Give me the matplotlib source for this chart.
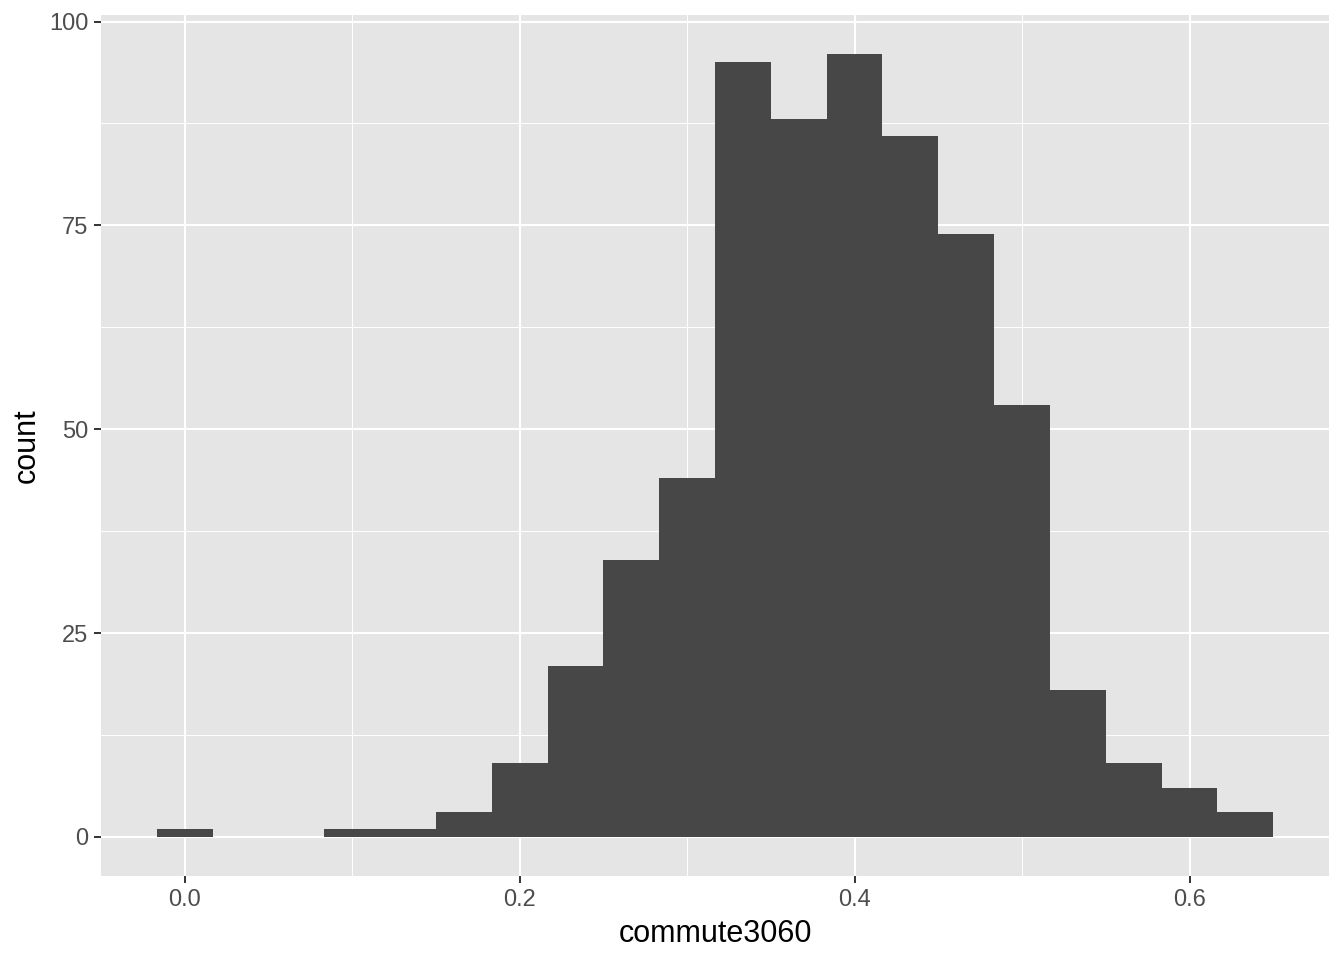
import matplotlib
matplotlib.use("Agg")
import matplotlib.pyplot as plt
from matplotlib.ticker import FixedLocator

bin_centers = [0.0, 0.0333, 0.0667, 0.1, 0.1333, 0.1667, 0.2, 0.2333, 0.2667, 0.3,
               0.3333, 0.3667, 0.4, 0.4333, 0.4667, 0.5, 0.5333, 0.5667, 0.6, 0.6333]
counts = [1, 0, 0, 1, 1, 3, 9, 21, 34, 44, 95, 88, 96, 86, 74, 53, 18, 9, 6, 3]
bin_width = 1 / 30
x_ticks = [0.0, 0.2, 0.4, 0.6]
x_tick_labels = ["0.0", "0.2", "0.4", "0.6"]
y_ticks = [0, 25, 50, 75, 100]

plt.rcParams['font.family'] = ['Liberation Sans', 'DejaVu Sans']

fig = plt.figure(figsize=(6.72, 4.8), dpi=200)
ax = fig.add_axes([101/1344, 1 - 876/960, (1329 - 101)/1344, (876 - 15)/960])
ax.set_facecolor('#E5E5E5')

ax.bar(bin_centers, counts, width=bin_width, color='#474747', linewidth=0, zorder=3)

xmin = bin_centers[0] - bin_width / 2
xmax = bin_centers[-1] + bin_width / 2
xr = xmax - xmin
ax.set_xlim(xmin - 0.05 * xr, xmax + 0.05 * xr)
ymax = max(counts)
ax.set_ylim(-0.05 * ymax, ymax * 1.05)

ax.xaxis.set_major_locator(FixedLocator(x_ticks))
ax.set_xticklabels(x_tick_labels)
ax.xaxis.set_minor_locator(FixedLocator([0.1, 0.3, 0.5]))
ax.yaxis.set_major_locator(FixedLocator(y_ticks))
ax.yaxis.set_minor_locator(FixedLocator([12.5, 37.5, 62.5, 87.5]))

ax.grid(which='major', color='white', linewidth=0.75, zorder=1)
ax.grid(which='minor', color='white', linewidth=0.35, zorder=1)
ax.set_axisbelow(True)
for s in ax.spines.values():
    s.set_visible(False)

ax.tick_params(which='major', length=2.6, width=0.7, color='#333333',
               labelsize=8.5, labelcolor='#4D4D4D', pad=2)
ax.tick_params(which='minor', length=0)

ax.set_xlabel('commute3060', fontsize=11, color='black', labelpad=3)
ax.set_ylabel('count', fontsize=11, color='black', labelpad=2.5)

fig.savefig('out.png', dpi=200)
